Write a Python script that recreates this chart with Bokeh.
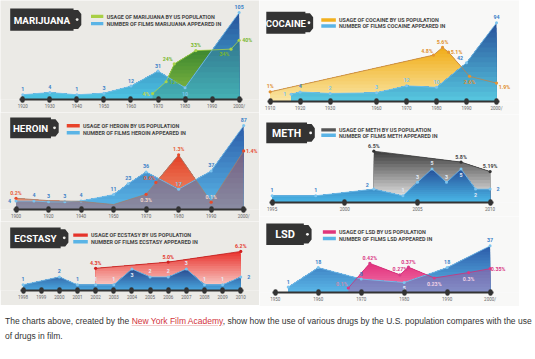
import numpy as np
from bokeh.plotting import figure
from bokeh.models import Range1d, FixedTicker, Div, ColumnDataSource
from bokeh.layouts import column, row
from bokeh.core.properties import value
from bokeh.embed import file_html
from bokeh.resources import INLINE

# ---------------------------------------------------------------- data
# MARIJUANA
mj_tick_years = [1920, 1930, 1940, 1950, 1960, 1970, 1980, 1990, 2000]
mj_tick_labels = ["1920", "1930", "1940", "1950", "1960", "1970", "1980", "1990", "2000/"]
mj_film_years = [1920, 1930, 1940, 1950, 1960, 1970, 1980, 2000]
mj_films = [1, 4, 1, 3, 12, 31, 10, 105]
mj_use_years = [1968, 1973, 1976, 1984, 1997, 2000]
mj_usage = [4, 12, 24, 33, 34, 40]
mj_usage_labels = ["4%", "12%", "24%", "33%", "34%", "40%"]

# COCAINE
coc_tick_years = [1910, 1920, 1930, 1960, 1970, 1980, 1990, 2000]
coc_tick_labels = ["1910", "1920", "1930", "1960", "1970", "1980", "1990", "2000/"]
coc_film_years = [1917, 1920, 1930, 1960, 1970, 1980, 1990, 2000]
coc_films = [1, 4, 2, 3, 12, 10, 42, 94]
coc_use_years = [1910, 1979, 1982, 1984, 1991, 2000]
coc_usage = [1.0, 4.8, 5.6, 5.1, 2.6, 1.9]
coc_usage_labels = ["1%", "4.8%", "5.6%", "5.1%", "2.6%", "1.9%"]

# HEROIN
her_tick_years = [1900, 1920, 1940, 1950, 1970, 1980, 1990, 2000]
her_tick_labels = ["1900", "1920", "1940", "1950", "1970", "1980", "1990", "2000/"]
her_film_years = [1900, 1911, 1920, 1930, 1940, 1950, 1959, 1970, 1980, 1990, 2000]
her_films = [4, 4, 3, 3, 4, 11, 23, 36, 17, 37, 87]
her_use_years = [1900, 1920, 1940, 1950, 1970, 1973, 1980, 1990, 2000]
her_usage = [0.2, 0.14, 0.12, 0.04, 0.3, 0.6, 1.3, 0.1, 1.4]
her_usage_labels = ["0.2%", "", "", "", "0.3%", "0.6%", "1.3%", "0.1%", "1.4%"]

# METH
meth_tick_years = [1995, 2000, 2005, 2010]
meth_tick_labels = ["1995", "2000", "2005", "2010"]
meth_film_years = [1995, 1998, 2002, 2004, 2005, 2006, 2007, 2008, 2009, 2010]
meth_films = [1, 1, 2, 1, 3, 5, 3, 5, 2, 2]
meth_use_years = [2002, 2008, 2010]
meth_usage = [6.5, 5.8, 5.19]
meth_usage_labels = ["6.5%", "5.8%", "5.19%"]

# ECSTASY
ecs_tick_years = [1998, 1999, 2000, 2001, 2002, 2003, 2004, 2005, 2006, 2007, 2008, 2009, 2010]
ecs_tick_labels = [str(y) for y in ecs_tick_years]
ecs_film_years = [1998, 2000, 2001, 2002, 2003, 2004, 2005, 2006, 2007, 2008, 2009, 2010]
ecs_films = [1, 2, 1, 1, 1, 3, 2, 2, 3, 1, 1, 2]
ecs_use_years = [2002, 2006, 2010]
ecs_usage = [4.3, 5.0, 6.2]
ecs_usage_labels = ["4.3%", "5.0%", "6.2%"]

# LSD
lsd_tick_years = [1950, 1960, 1970, 1980, 1990, 2000]
lsd_tick_labels = ["1950", "1960", "1970", "1980", "1990", "2000/"]
lsd_film_years = [1953, 1960, 1970, 1980, 1990, 2000]
lsd_films = [1, 18, 8, 5, 18, 37]
lsd_use_years = [1967, 1972, 1979, 1981, 1987, 1995, 2000]
lsd_usage = [0.1, 0.42, 0.27, 0.37, 0.23, 0.3, 0.35]
lsd_usage_labels = ["0.1%", "0.42%", "0.27%", "0.37%", "0.23%", "0.3%", "0.35%"]

caption_html = ('The charts above, created by the '
                '<span style="color:#d2343c;text-decoration:underline;'
                'text-decoration-color:#f2caca">New York Film Academy</span>, '
                'show how the use of various drugs by the U.S. population '
                'compares with the use<br>of drugs in film.')

# ---------------------------------------------------------------- style
SX, SY = 519 / 535, 343 / 359
FONT = "Roboto"
LEFT_BG = "#ebeae6"
RIGHT_BG = "#f8f8f7"
FILM_LINE = "#7cc4ee"
FILM_SWATCH = "#5ab4e6"

OFF = {"a": (0, -5.5), "b": (0, 6), "l": (-6.5, 0), "r": (8, 0),
       "al": (-6.5, -4.5), "ar": (7, -4), "bl": (-6.5, 5), "br": (8, 4)}


def mix(c1, c2, t):
    a = [int(c1[i:i + 2], 16) for i in (1, 3, 5)]
    b = [int(c2[i:i + 2], 16) for i in (1, 3, 5)]
    return "#%02x%02x%02x" % tuple(round(a[k] + (b[k] - a[k]) * t) for k in range(3))


def grad_area(p, xs, ys, base, c_top, c_bot, n=16, rng=None, alpha=1.0):
    xs = np.asarray(xs, float)
    ys = np.asarray(ys, float)
    xd = np.union1d(np.linspace(xs[0], xs[-1], 500), xs)
    yd = np.interp(xd, xs, ys)
    top = yd.max()
    kw = {"y_range_name": rng} if rng else {}
    for i in range(n, 0, -1):
        hi = base + (top - base) * i / n
        p.varea(x=xd, y1=np.full(xd.shape, base), y2=np.minimum(yd, hi),
                fill_color=mix(c_bot, c_top, (i - 0.5) / n), fill_alpha=alpha, **kw)


def put_labels(p, xs, ys, texts, places, colors, rng=None, size="5.3px"):
    kw = {"y_range_name": rng} if rng else {}
    src = ColumnDataSource(dict(x=list(xs), y=list(ys), t=list(texts),
                                dx=[OFF[k][0] for k in places],
                                dy=[OFF[k][1] for k in places], c=list(colors)))
    p.text(x="x", y="y", text="t", x_offset="dx", y_offset="dy", text_color="c",
           source=src, text_font=value(FONT), text_font_style="bold",
           text_font_size=size, text_align="center", text_baseline="middle", **kw)


def panel(s):
    W, H, B = s["W"], s["H"], s["B"]
    tpos = np.asarray(s["tick_pos"], float)
    X0, X1 = s["X0"], s["X1"]
    ppu = (X1 - X0) / (tpos[-1] - tpos[0])
    xr = Range1d(tpos[0] - X0 / ppu, tpos[0] + (W - X0) / ppu)
    f0, fk, u0, uk = s["f0"], s["fk"], s["u0"], s["uk"]
    p = figure(frame_width=round(W * SX), frame_height=round(B * SY),
               min_border_left=0, min_border_right=0, min_border_top=0,
               min_border_bottom=round((H - B) * SY),
               x_range=xr, y_range=Range1d(f0, f0 + B / fk),
               y_axis_location=None, output_backend="svg", toolbar_location=None,
               background_fill_color=s["bg"], border_fill_color=s["bg"],
               outline_line_color=None)
    p.extra_x_ranges = {"px": Range1d(0, W)}
    p.extra_y_ranges = {"px": Range1d(B, 0), "u": Range1d(u0, u0 + B / uk)}
    p.grid.grid_line_color = None

    ax = p.xaxis[0]
    ax.ticker = FixedTicker(ticks=list(tpos))
    ax.major_label_overrides = {float(k): v for k, v in zip(tpos, s["tick_labels"])}
    ax.bounds = (tpos[0] - 3 / ppu, tpos[-1] + 3 / ppu)
    ax.axis_line_color = "#333333"
    ax.axis_line_width = 2.2
    ax.major_tick_line_color = "#333333"
    ax.major_tick_line_width = 4.5
    ax.major_tick_line_cap = "round"
    ax.major_tick_in = 1
    ax.major_tick_out = 1
    ax.minor_tick_line_color = None
    ax.major_label_text_font = FONT
    ax.major_label_text_font_size = "4.5px"
    ax.major_label_text_color = "#666666"
    ax.major_label_standoff = 3

    tomap = lambda yrs: np.interp(yrs, s["tick_years"], tpos)
    fx = tomap(s["film_years"])
    ux = tomap(s["use_years"])
    fv = np.asarray(s["films"], float)
    uv = np.asarray(s["usage"], float)

    # areas
    grad_area(p, ux, uv, u0, s["u_top"], s["u_bot"], rng="u")
    grad_area(p, fx, fv, f0, s["f_top"], s["f_bot"])
    if s.get("tint", 0) > 0:
        grad_area(p, ux, uv, u0, s["u_top"], s["u_top"], n=1, rng="u", alpha=s["tint"])

    # lines and points
    p.line(fx, fv, line_color=FILM_LINE, line_width=0.8)
    p.scatter(fx, fv, size=3, fill_color=FILM_LINE, line_color=None)
    p.line(ux, uv, y_range_name="u", line_color=s["u_line"], line_width=0.8)
    dots = [i for i, t in enumerate(s["use_labels"]) if t]
    p.scatter(ux[dots], uv[dots], y_range_name="u", size=3.2,
              fill_color=s["u_dot"], line_color=None)

    put_labels(p, fx, fv, [str(v) for v in s["films"]], s["film_place"], s["film_col"])
    put_labels(p, ux[dots], uv[dots], [s["use_labels"][i] for i in dots],
               [s["use_place"][i] for i in dots], [s["use_col"][i] for i in dots], rng="u")

    # title tag
    L, T, R, Bt = s["box"]
    kw = dict(x_range_name="px", y_range_name="px")
    p.patch([L, R - 8, R - 8, R - 3.3, R, R, R - 3.3, R - 8, R - 8, L],
            [T, T, T + 1.7, T + 1.7, T + 6, Bt - 6, Bt - 1.7, Bt - 1.7, Bt, Bt],
            fill_color="#333333", line_color=None, **kw)
    p.scatter([R - 4.3], [(T + Bt) / 2], size=2.8, fill_color=s["bg"], line_color=None, **kw)
    p.text([(L + R - 8) / 2], [(T + Bt) / 2 + 0.6], text=[s["title"]], text_color="white",
           text_font=value(FONT), text_font_style="bold", text_font_size=s.get("tsize", "10px"),
           text_align="center", text_baseline="middle", **kw)

    # legend
    sx0, sx1, tx, r1, r2 = s["leg"]
    p.quad(left=[sx0, sx0], right=[sx1, sx1], top=[r1 - 1.8, r2 - 1.8], bottom=[r1 + 1.8, r2 + 1.8],
           fill_color=[s["swatch"], FILM_SWATCH], line_color=None, **kw)
    p.text([tx, tx], [r1 + 0.3, r2 + 0.3], text=[s["leg1"], s["leg2"]], text_color="#444444",
           text_font=value(FONT), text_font_style="bold", text_font_size="5.4px",
           text_baseline="middle", **kw)
    return p


FB = "#3c82c8"
FL = "#7ec6ee"
FW = "#e4ecf8"

mj = dict(title="MARIJUANA", W=267, H=118, B=104, bg=LEFT_BG, box=(10, 8.3, 83.3, 31.7),
          leg=(93.3, 106, 109.5, 16.7, 24.3), swatch="#a8cf45", tsize="9.8px",
          leg1="USAGE OF MARIJUANA BY US POPULATION", leg2="NUMBER OF FILMS MARIJUANA APPEARED IN",
          tick_years=mj_tick_years, tick_pos=mj_tick_years, tick_labels=mj_tick_labels, X0=23, X1=246,
          film_years=mj_film_years, films=mj_films,
          film_place=["a", "a", "a", "a", "a", "a", "b", "a"],
          film_col=[FB, FB, FB, FB, FB, FB, FL, FB],
          use_years=mj_use_years, usage=mj_usage, use_labels=mj_usage_labels,
          use_place=["l", "r", "al", "a", "bl", "r"],
          use_col=["#c4d84a", "#7ab82f", "#7ab82f", "#7ab82f", "#7ab82f", "#7ab82f"],
          f0=-5, fk=0.83, u0=0, uk=1.556,
          f_top="#27519a", f_bot="#4cc4e2", u_top="#2e7d2c", u_bot="#a5d24a",
          u_line="#a8d44a", u_dot="#a8d44a", tint=0.25)

coc = dict(title="COCAINE", W=268, H=120, B=106, bg=RIGHT_BG, box=(7, 11.7, 55.3, 35),
           leg=(63.7, 78.7, 82, 20.5, 26.7), swatch="#f2b01e", tsize="9.5px",
           leg1="USAGE OF COCAINE BY US POPULATION", leg2="NUMBER OF FILMS COCAINE APPEARED IN",
           tick_years=coc_tick_years, tick_pos=[0, 1, 2, 3.55, 4.55, 5.55, 6.55, 7.55],
           tick_labels=coc_tick_labels, X0=11, X1=244.3,
           film_years=coc_film_years, films=coc_films,
           film_place=["l", "a", "a", "a", "a", "a", "al", "a"],
           film_col=[FL, FB, FL, FL, FL, FL, FB, FB],
           use_years=coc_use_years, usage=coc_usage, use_labels=coc_usage_labels,
           use_place=["a", "al", "a", "r", "b", "br"],
           use_col=["#e0902e"] * 6,
           f0=-8.5, fk=0.806, u0=0, uk=10.15,
           f_top="#27519a", f_bot="#58c8e0", u_top="#f1ac16", u_bot="#f9e6a6",
           u_line="#c08446", u_dot="#e39432", tint=0)

her = dict(title="HEROIN", W=267, H=114, B=102, bg=LEFT_BG, box=(10, 5.3, 60, 27),
           leg=(68.3, 81.7, 85, 14, 21.3), swatch="#e8432a", tsize="9.8px",
           leg1="USAGE OF HEROIN BY US POPULATION", leg2="NUMBER OF FILMS HEROIN APPEARED IN",
           tick_years=her_tick_years, tick_pos=list(range(8)), tick_labels=her_tick_labels,
           X0=16, X1=250.7,
           film_years=her_film_years, films=her_films,
           film_place=["l", "a", "a", "a", "a", "a", "a", "a", "a", "a", "a"],
           film_col=[FB] * 8 + [FL, FB, FB],
           use_years=her_use_years, usage=her_usage, use_labels=her_usage_labels,
           use_place=["a", "a", "a", "a", "b", "al", "a", "a", "r"],
           use_col=["#e8603a", "", "", "", "#f1d6cc", "#e8603a", "#e8603a", "#f1d6cc", "#e8503a"],
           f0=-5.4, fk=0.955, u0=-0.085, uk=41.5,
           f_top="#2c5ca8", f_bot="#5ab8e8", u_top="#e33a20", u_bot="#f6cfa8",
           u_line="#a08070", u_dot="#e84a2a", tint=0.35)

meth = dict(title="METH", W=268, H=106, B=91.7, bg=RIGHT_BG, box=(7, 8.3, 57, 30),
            leg=(63.7, 78.7, 82, 16, 21.7), swatch="#555555", tsize="10.5px",
            leg1="USAGE OF METH BY US POPULATION", leg2="NUMBER OF FILMS METH APPEARED IN",
            tick_years=meth_tick_years, tick_pos=meth_tick_years, tick_labels=meth_tick_labels,
            X0=13, X1=237.7,
            film_years=meth_film_years, films=meth_films,
            film_place=["a", "a", "al", "a", "a", "a", "a", "b", "b", "r"],
            film_col=[FB, FB, FB, FW, FW, FW, FW, FW, FW, FB],
            use_years=meth_use_years, usage=meth_usage, use_labels=meth_usage_labels,
            use_place=["a", "a", "a"], use_col=["#444444"] * 3,
            f0=0, fk=7, u0=3.2, uk=16.2,
            f_top="#264f98", f_bot="#4ab8e8", u_top="#3d3d3d", u_bot="#f6f6f6",
            u_line="#444444", u_dot="#333333", tint=0)

ecs = dict(title="ECSTASY", W=267, H=88, B=72.3, bg=LEFT_BG, box=(10, 6.3, 70, 28),
           leg=(75, 90, 93.3, 14.3, 21.3), swatch="#e5332a", tsize="9.8px",
           leg1="USAGE OF ECSTASY BY US POPULATION", leg2="NUMBER OF FILMS ECSTASY APPEARED IN",
           tick_years=ecs_tick_years, tick_pos=ecs_tick_years, tick_labels=ecs_tick_labels,
           X0=23.3, X1=247.7,
           film_years=ecs_film_years, films=ecs_films,
           film_place=["a", "a", "a", "a", "a", "b", "a", "a", "a", "a", "a", "r"],
           film_col=[FB, FB, FB, FW, FW, FW, FW, FW, FW, FW, FW, FB],
           use_years=ecs_use_years, usage=ecs_usage, use_labels=ecs_usage_labels,
           use_place=["a", "a", "a"], use_col=["#e43a30"] * 3,
           f0=0.28, fk=8.3, u0=1.8, uk=9.3,
           f_top="#2b4a8e", f_bot="#4aa8e0", u_top="#e8302a", u_bot="#fbe0dc",
           u_line="#c02020", u_dot="#d02020", tint=0)

lsd = dict(title="LSD", W=268, H=94, B=79.7, bg=RIGHT_BG, box=(7, 7.3, 53.7, 30),
           leg=(65.3, 78.7, 82, 16.3, 23), swatch="#e0367a", tsize="11px",
           leg1="USAGE OF LSD BY US POPULATION", leg2="NUMBER OF FILMS LSD APPEARED IN",
           tick_years=lsd_tick_years, tick_pos=lsd_tick_years, tick_labels=lsd_tick_labels,
           X0=16.3, X1=237.7,
           film_years=lsd_film_years, films=lsd_films,
           film_place=["a", "a", "a", "b", "a", "a"],
           film_col=[FB, FB, FB, FW, FB, FB],
           use_years=lsd_use_years, usage=lsd_usage, use_labels=lsd_usage_labels,
           use_place=["al", "a", "a", "a", "b", "b", "r"],
           use_col=["#c890b0", "#d93a86", "#d93a86", "#d93a86", "#f0d0e4", "#f0d0e4", "#d93a86"],
           f0=-3.75, fk=1.2, u0=0.042, uk=81,
           f_top="#2c5aa8", f_bot="#5ab8e8", u_top="#e4307c", u_bot="#f3a0c4",
           u_line="#d0307a", u_dot="#d83a86", tint=0.3)

left = column(panel(mj), panel(her), panel(ecs), spacing=0)
right = column(panel(coc), panel(meth), panel(lsd), spacing=0)
cap = Div(text=caption_html, width=519, height=36,
          styles={"font-family": "Liberation Sans, Arial, sans-serif", "font-size": "8.5px",
                  "color": "#333333", "line-height": "15px", "white-space": "nowrap",
                  "padding-top": "3px"})
page = column(row(left, right, spacing=0), cap, spacing=0)

open("out.html", "w").write(file_html(page, INLINE))
